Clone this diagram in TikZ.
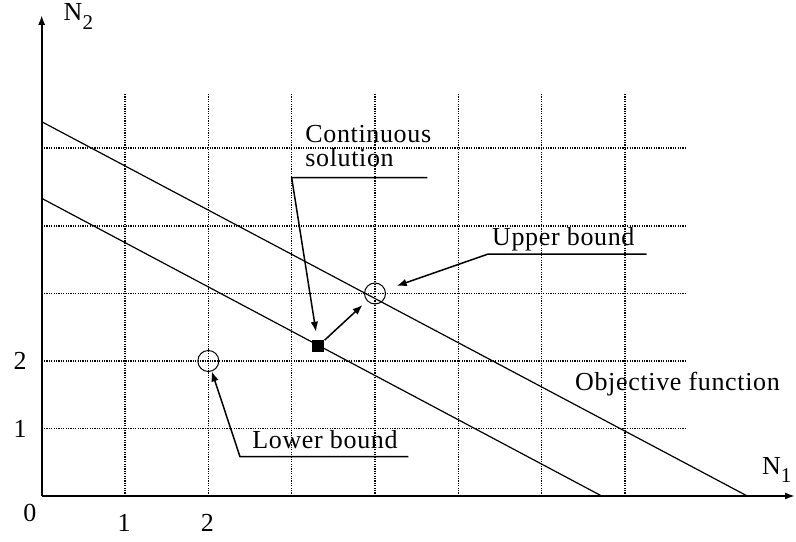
\documentclass[tikz,border=0pt]{standalone}
\usepackage{fontspec}
\setmainfont{Liberation Serif}[LetterSpace=2.5]
\usepackage{tikz}
\usetikzlibrary{arrows.meta}

\begin{document}
\begin{tikzpicture}[x=41.667pt, y=33.75pt, font=\fontsize{13}{12.2}\selectfont,
  gridline/.style={line width=0.7pt, dash pattern=on 0.6pt off 0.6pt},
  objline/.style={line width=0.6pt},
  axisline/.style={line width=1pt, -{Latex[length=5pt,width=3.6pt]}},
  pointer/.style={line width=0.75pt, -{Latex[length=5pt,width=3.8pt]}},
  bound/.style={circle, draw, line width=0.5pt, minimum size=10.5pt, inner sep=0pt}]
  \useasboundingbox (-0.5,-0.667) rectangle (9.052,7.348);
  % Grid
  \foreach \x in {1,...,7}
    \draw[gridline] (\x,0) -- (\x,5.97);
  \foreach \y in {1,2,3,4,5.156}
    \draw[gridline] (0,\y) -- (7.72,\y);
  % Objective function lines
  \draw[objline] (0,5.545) -- (8.467,0);
  \draw[objline] (0,4.41) -- (6.72,0);
  % Axes
  \draw[axisline] (0,0) -- (9.04,0);
  \draw[axisline] (0,0) -- (0,7.126);
  \node[anchor=base west, inner sep=0pt] (n1) at (8.64,0.311) {N\raisebox{-4pt}{\fontsize{10.5}{12}\selectfont 1}};
  \node[anchor=base west, inner sep=0pt] (n2) at (0.26,7.05) {N\raisebox{-4.5pt}{\fontsize{10.5}{12}\selectfont 2}};
  % Tick labels
  \node (o) at (-0.14,-0.256) {0};
  \node (x1) at (0.988,-0.396) {1};
  \node (x2) at (1.987,-0.396) {2};
  \node (y1) at (-0.26,1) {1};
  \node (y2) at (-0.26,2) {2};
  % Solutions
  \node[bound] (ub) at (4,3) {};
  \node[bound] (lb) at (2,2) {};
  \node[fill, minimum size=6pt, inner sep=0pt] (cs) at (3.319,2.222) {};
  \draw[pointer, shorten >=3pt] (cs) -- (ub);
  % Continuous solution label
  \node[anchor=base west, align=left, inner sep=0pt] (cstext) at (3.16,4.879) {Continuous\\solution};
  \coordinate (csl) at (3.0,4.716);
  \coordinate (csr) at (4.627,4.716);
  \draw[pointer, shorten >=4pt] (csr) -- (csl) -- (cs);
  % Upper bound label
  \node[anchor=base, inner sep=0pt] (ubtext) at (6.26,3.704) {Upper bound};
  \coordinate (ubl) at (5.359,3.585);
  \coordinate (ubr) at (7.26,3.585);
  \draw[pointer, shorten >=6pt] (ubr) -- (ubl) -- (ub);
  % Lower bound label
  \node[anchor=base, inner sep=0pt] (lbtext) at (3.40,0.707) {Lower bound};
  \coordinate (lbl) at (2.38,0.582);
  \coordinate (lbr) at (4.40,0.582);
  \draw[pointer] (lbr) -- (lbl) -- (lb);
  % Objective function label
  \node[anchor=base, inner sep=0pt] (obj) at (7.63,1.57) {Objective function};
\end{tikzpicture}
\end{document}
